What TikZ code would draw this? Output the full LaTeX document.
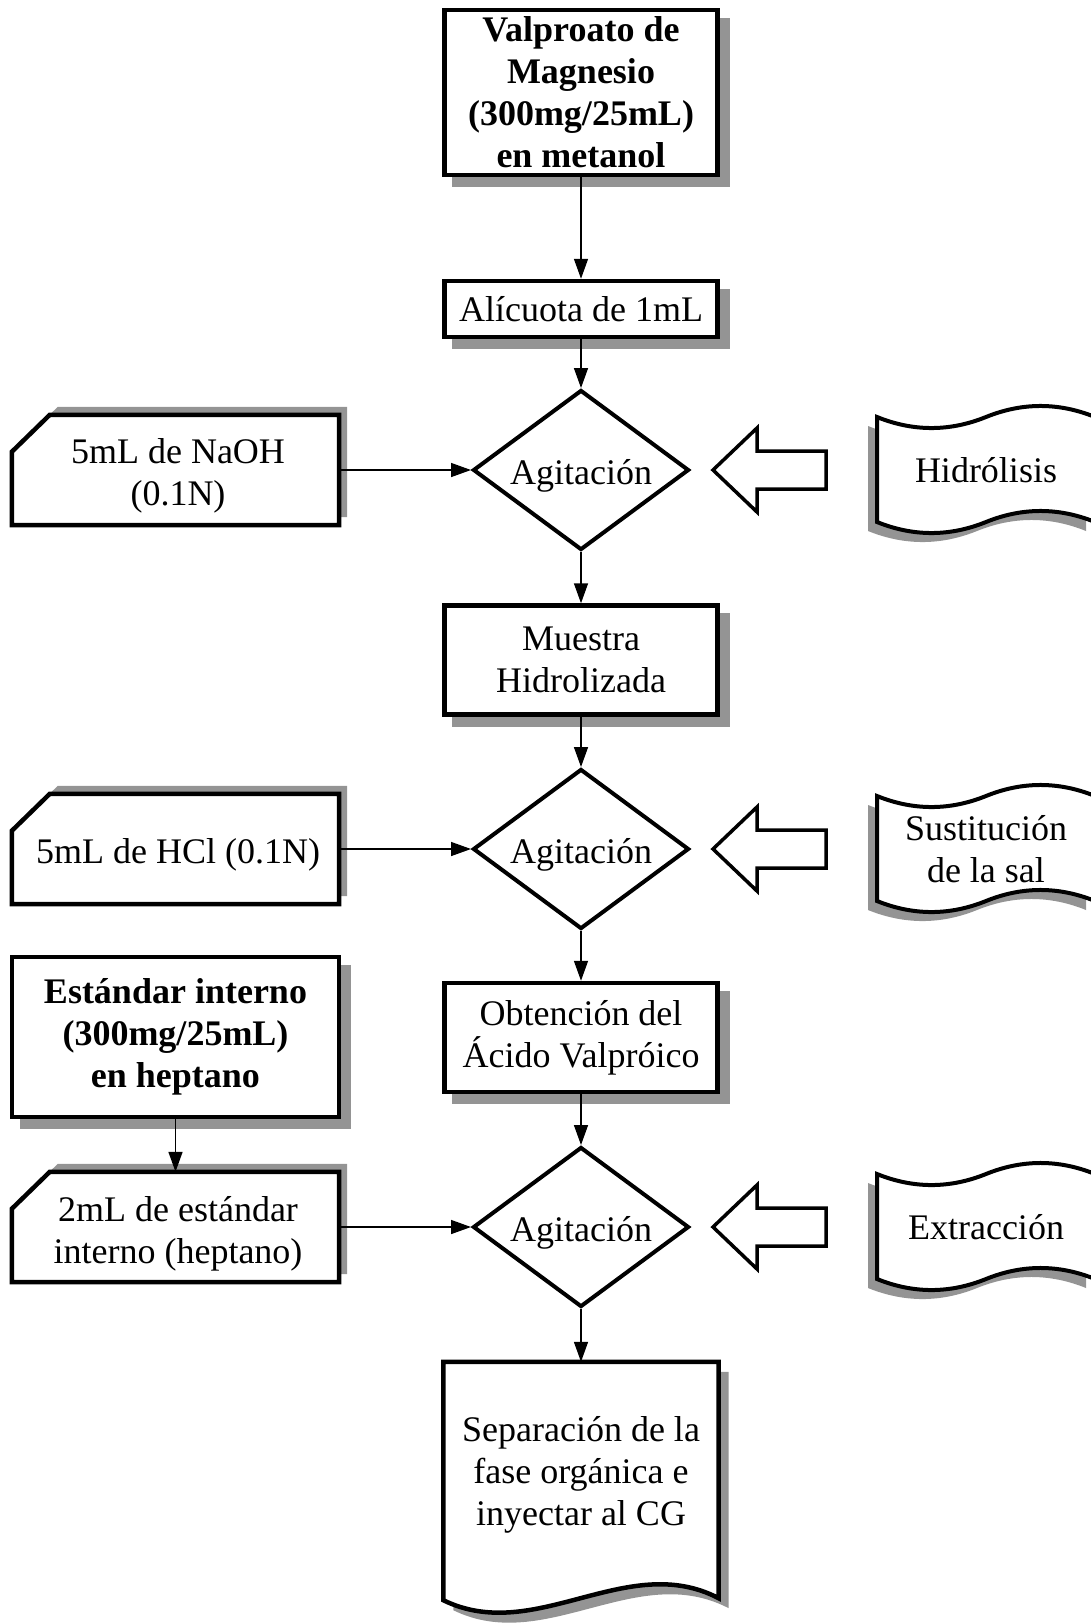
\documentclass[tikz,border=0pt]{standalone}
\usepackage{fontspec}
\setmainfont{Liberation Serif}
\usetikzlibrary{shapes.geometric,arrows.meta,backgrounds}
\pgfdeclarelayer{shadowlayer}
\pgfdeclarelayer{shapelayer}
\pgfsetlayers{shadowlayer,shapelayer,main}
\definecolor{shadowgray}{gray}{0.58}
\begin{document}
\begin{tikzpicture}[x=1pt,y=1pt,
  font=\fontsize{36}{42}\selectfont,
  box/.style={draw, line width=4.5pt, fill=white, minimum width=273pt, inner sep=0pt, align=center},
  leftbox/.style={draw, line width=4.5pt, fill=white, minimum width=327pt, inner sep=0pt, align=center},
  dia/.style={draw, diamond, shape aspect=1.33, line width=4pt, fill=white, minimum width=216pt, minimum height=160pt, inner sep=0pt},
  ghostcard/.style={inner sep=0pt, minimum width=327pt, minimum height=110pt},
  ghosttape/.style={inner sep=0pt, minimum width=218pt, minimum height=105pt, align=center},
  label/.style={inner sep=0pt, align=center},
  outline/.style={draw, line width=4.5pt, fill=white, line join=miter},
  shad/.style={fill=shadowgray, draw=none},
  conn/.style={line width=1.5pt, -{Triangle[length=20pt,width=14pt]}},
  blockarrow/.style={draw, line width=3.5pt, fill=white},
  tapeshape/.pic={\path[pic actions] (-109,53) .. controls (-72.7,38.3) and (-36.3,38.3) .. (0,53) .. controls (36.3,67.7) and (72.7,67.7) .. (109,53) -- (109,-52) .. controls (72.7,-37.3) and (36.3,-37.3) .. (0,-52) .. controls (-36.3,-66.7) and (-72.7,-66.7) .. (-109,-52) -- cycle;},
  leftarrow/.pic={\path[pic actions] (-56,0) -- (-12,42) -- (-12,19) -- (57,19) -- (57,-19) -- (-12,-19) -- (-12,-42) -- cycle;}
]
\useasboundingbox (0,0) rectangle (1091,-1623);

% main column
\node[box, minimum height=165pt, font=\fontsize{36}{42}\selectfont\bfseries] (valp) at (581,-92.5) {Valproato de\\Magnesio\\(300mg/25mL)\\en metanol};
\node[box, minimum height=56pt] (alic) at (581,-309) {Alícuota de 1mL};
\node[dia] (d1) at (581,-470) {};
\node[label] (d1t) at (581,-476) {Agitación};
\node[box, minimum height=109pt] (mues) at (581,-660) {Muestra\\Hidrolizada};
\node[dia] (d2) at (581,-849) {};
\node[label] (d2t) at (581,-855) {Agitación};
\node[box, minimum height=109pt] (obt) at (581,-1037.5) {Obtención del\\Ácido Valpróico};
\node[dia] (d3) at (581,-1227) {};
\node[label] (d3t) at (581,-1233) {Agitación};
\node[inner sep=0pt, minimum width=275pt, minimum height=238pt] (doc) at (581,-1481) {};
\node[label] (doctext) at (581,-1475) {Separación de la\\fase orgánica e\\inyectar al CG};

% left column
\node[ghostcard] (c1) at (175.5,-470) {};
\node[label] (c1t) at (178,-476) {5mL de NaOH\\(0.1N)};
\node[ghostcard] (c2) at (175.5,-849) {};
\node[label] (c2t) at (178,-855) {5mL de HCl (0.1N)};
\node[leftbox, minimum height=160pt, font=\fontsize{36}{42}\selectfont\bfseries] (est) at (175.5,-1037) {Estándar interno\\(300mg/25mL)\\en heptano};
\node[ghostcard] (c3) at (175.5,-1227) {};
\node[label] (c3t) at (178,-1234) {2mL de estándar\\interno (heptano)};

% right column
\node[ghosttape] (r1) at (986,-470) {Hidrólisis};
\node[ghosttape] (r2) at (986,-849) {Sustitución\\de la sal};
\node[ghosttape] (r3) at (986,-1227) {Extracción};

% custom outlines
\begin{pgfonlayer}{shapelayer}
  \foreach \c in {c1,c2,c3}{
    \path[outline] (\c.south west) -- ([yshift=-37pt]\c.north west) -- ([xshift=38pt]\c.north west) -- (\c.north east) -- (\c.south east) -- cycle;
  }
  \path[outline] (doc.south west) -- (doc.north west) -- (doc.north east) -- ([yshift=2pt]doc.south east) .. controls +(-92,48) and +(92,-45) .. (doc.south west) -- cycle;
  \pic[outline, line width=4pt] at (r1.center) {tapeshape};
  \pic[outline, line width=4pt] at (r2.center) {tapeshape};
  \pic[outline, line width=4pt] at (r3.center) {tapeshape};
  \pic[blockarrow] at (769,-470) {leftarrow};
  \pic[blockarrow] at (769,-849) {leftarrow};
  \pic[blockarrow] at (769,-1227) {leftarrow};
\end{pgfonlayer}

% shadows
\begin{pgfonlayer}{shadowlayer}
  \foreach \b in {valp,alic,mues,obt,est}{
    \fill[shad] ([shift={(10,-10)}]\b.north west) rectangle ([shift={(10,-10)}]\b.south east);
  }
  \foreach \c in {c1,c2,c3}{
    \path[shad] ([shift={(8,8)}]\c.south west) -- ([shift={(8,-29)}]\c.north west) -- ([shift={(46,8)}]\c.north west) -- ([shift={(8,8)}]\c.north east) -- ([shift={(8,8)}]\c.south east) -- cycle;
  }
  \path[shad] ([shift={(10,-10)}]doc.south west) -- ([shift={(10,-10)}]doc.north west) -- ([shift={(10,-10)}]doc.north east) -- ([shift={(10,-8)}]doc.south east) .. controls +(-92,48) and +(92,-45) .. ([shift={(10,-10)}]doc.south west) -- cycle;
  \pic[shad] at ([shift={(-9,-9)}]r1.center) {tapeshape};
  \pic[shad] at ([shift={(-9,-9)}]r2.center) {tapeshape};
  \pic[shad] at ([shift={(-9,-9)}]r3.center) {tapeshape};
\end{pgfonlayer}

% connectors
\draw[conn] (valp.south) -- (alic.north);
\draw[conn] (alic.south) -- (d1.north);
\draw[conn] (d1.south) -- (mues.north);
\draw[conn] (mues.south) -- (d2.north);
\draw[conn] (d2.south) -- (obt.north);
\draw[conn] (obt.south) -- (d3.north);
\draw[conn] (d3.south) -- (doc.north);
\draw[conn] (c1.east) -- (d1.west);
\draw[conn] (c2.east) -- (d2.west);
\draw[conn] (c3.east) -- (d3.west);
\draw[conn] (est.south) -- (c3.north);
\end{tikzpicture}
\end{document}
